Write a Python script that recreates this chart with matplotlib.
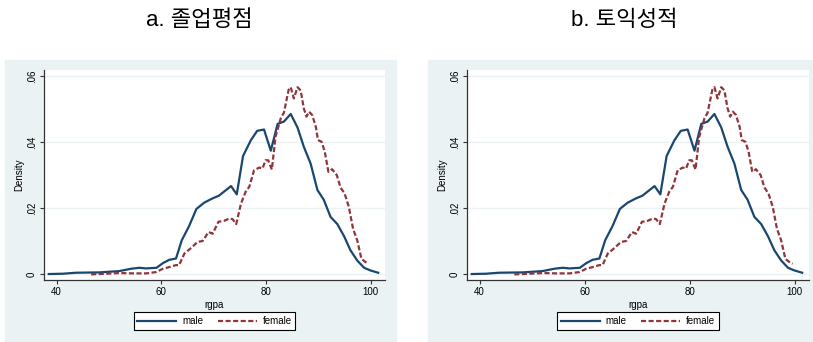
import matplotlib
matplotlib.use("Agg")
import matplotlib.pyplot as plt
from matplotlib.patches import Rectangle

plt.rcParams['font.family'] = ['Liberation Sans', 'Noto Sans CJK KR', 'DejaVu Sans']

# 패널 제목
titles = ["a. 졸업평점", "b. 토익성적"]

# male 밀도 곡선
male_x = [38.5, 41.2, 43.7, 48.2, 52.0, 54.2, 55.8, 57.1, 59.1, 60.3, 61.5, 62.8,
          63.9, 65.3, 66.7, 68.2, 69.8, 71.0, 73.3, 74.4, 75.6, 77.1, 78.3, 79.6,
          80.9, 82.2, 83.4, 84.7, 86.0, 87.2, 88.5, 89.8, 91.0, 92.3, 93.6, 94.9,
          96.1, 97.4, 98.7, 99.9, 101.4]
male_y = [0.0001, 0.0002, 0.0005, 0.0006, 0.0010, 0.0017, 0.0020, 0.0018, 0.0020,
          0.0034, 0.0044, 0.0048, 0.0103, 0.0146, 0.0198, 0.0217, 0.0230, 0.0238,
          0.0267, 0.0242, 0.0358, 0.0406, 0.0434, 0.0438, 0.0374, 0.0455, 0.0462,
          0.0485, 0.0444, 0.0386, 0.0335, 0.0255, 0.0226, 0.0174, 0.0152, 0.0115,
          0.0073, 0.0042, 0.0020, 0.0012, 0.0005]

# female 밀도 곡선
female_x = [46.6, 49.5, 52.0, 54.5, 57.1, 59.0, 60.3, 61.5, 62.8, 63.4, 64.4, 65.7,
            66.9, 67.9, 69.0, 69.8, 70.9, 72.0, 73.0, 73.6, 74.3, 75.2, 76.1, 76.8,
            77.7, 78.7, 79.3, 79.9, 80.4, 81.1, 81.8, 82.8, 83.4, 84.3, 84.7, 85.3,
            86.0, 86.6, 87.2, 87.7, 88.2, 88.8, 89.5, 89.9, 90.6, 91.2, 91.9, 92.6,
            93.5, 94.2, 95.0, 95.8, 96.6, 97.4, 98.2, 99.0, 99.6]
female_y = [0.0000, 0.0002, 0.0004, 0.0003, 0.0003, 0.0007, 0.0017, 0.0022, 0.0028,
            0.0028, 0.0063, 0.0080, 0.0098, 0.0101, 0.0128, 0.0123, 0.0159, 0.0162,
            0.0169, 0.0167, 0.0152, 0.0214, 0.0250, 0.0265, 0.0315, 0.0323, 0.0320,
            0.0345, 0.0345, 0.0317, 0.0416, 0.0472, 0.0489, 0.0558, 0.0566, 0.0532,
            0.0566, 0.0556, 0.0502, 0.0477, 0.0492, 0.0482, 0.0446, 0.0406, 0.0401,
            0.0371, 0.0310, 0.0318, 0.0300, 0.0263, 0.0244, 0.0204, 0.0138, 0.0103,
            0.0047, 0.0037, 0.0032]

x_ticks = [40, 60, 80, 100]
y_ticks = [0, 0.02, 0.04, 0.06]
y_tick_labels = ["0", ".02", ".04", ".06"]

W, H = 813, 342
bg = "#eaf2f3"
navy = "#1a476f"
maroon = "#90353b"

fig = plt.figure(figsize=(W / 100, H / 100), dpi=100)

# 패널 위치 (픽셀): 배경 영역, 축 영역, 제목 중심
panels = [
    {"bg": (5, 396), "ax": (44, 385), "title_x": 199},
    {"bg": (428, 813), "ax": (467, 809), "title_x": 624},
]
bg_top = 60
ax_top, ax_bottom = 70, 280

for title, p in zip(titles, panels):
    x0, x1 = p["bg"]
    fig.patches.append(Rectangle((x0 / W, 0), (x1 - x0) / W, (H - bg_top) / H,
                                 transform=fig.transFigure, color=bg, zorder=-5))
    a0, a1 = p["ax"]
    ax = fig.add_axes([a0 / W, (H - ax_bottom) / H, (a1 - a0) / W, (ax_bottom - ax_top) / H])
    ax.set_facecolor("white")

    ax.plot(male_x, male_y, color=navy, lw=1.6, label="male")
    ax.plot(female_x, female_y, color=maroon, lw=1.6, ls=(0, (2.3, 1.1)), label="female")

    ax.set_xlim(37.6, 102.7)
    ax.set_ylim(-0.0017, 0.0618)
    ax.set_xticks(x_ticks)
    ax.set_yticks(y_ticks)
    ax.set_yticklabels(y_tick_labels, rotation=90, va="center")
    ax.tick_params(labelsize=7, length=3, width=0.8, color="#333333", pad=2)
    ax.grid(axis="y", color=bg, lw=1)
    ax.set_axisbelow(True)
    for s in ["top", "right"]:
        ax.spines[s].set_visible(False)
    for s in ["left", "bottom"]:
        ax.spines[s].set_color("#333333")
        ax.spines[s].set_linewidth(0.9)

    ax.set_xlabel("rgpa", fontsize=7, labelpad=2)
    ax.set_ylabel("Density", fontsize=7, labelpad=2)

    leg = ax.legend(loc="center", bbox_to_anchor=(0.5, -0.195), ncol=2, fontsize=7,
                    handlelength=4.0, columnspacing=1.5, handletextpad=0.6,
                    fancybox=False, framealpha=1, borderpad=0.4)
    leg.get_frame().set_edgecolor("black")
    leg.get_frame().set_linewidth(0.8)

    fig.text(p["title_x"] / W, 1 - 20 / H, title, ha="center", va="center", fontsize=16)

fig.savefig("out.png", dpi=100)
